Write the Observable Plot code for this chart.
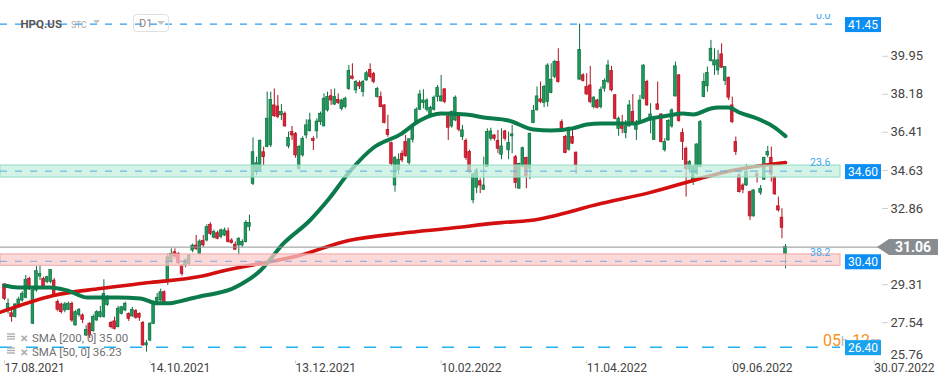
<!DOCTYPE html>
<html><head><meta charset="utf-8">
<script src="https://cdn.jsdelivr.net/npm/d3@7"></script>
<script src="https://cdn.jsdelivr.net/npm/@observablehq/plot@0.6"></script>
<style>
html,body{margin:0;padding:0;background:#fff;}
#chart{width:949px;height:385px;overflow:hidden;}
svg{display:block;}
</style></head><body><div id="chart"></div>
<script>
// ---- data (daily candles, HPQ.US, index 0 = 17.08.2021) ----
const openP = [29.32,28.11,27.98,27.80,28.34,28.57,28.70,29.58,27.49,29.04,
29.69,29.58,29.43,29.43,29.50,28.50,28.39,28.11,28.14,28.42,
27.41,27.90,27.88,26.94,27.49,27.14,27.64,27.80,27.80,28.37,
27.52,27.60,27.33,27.95,28.11,27.95,27.83,28.08,27.95,27.53,
26.48,26.71,27.49,28.50,28.57,28.96,29.50,30.36,30.82,30.75,
30.20,30.20,30.28,30.90,31.13,30.75,31.34,31.37,32.10,31.50,
31.71,31.53,31.60,31.79,31.37,31.17,31.14,31.14,31.30,32.00,
34.01,34.55,34.63,35.48,35.72,35.80,37.66,37.61,37.20,37.27,
35.75,36.42,36.34,34.71,35.33,36.26,36.46,36.10,36.45,36.88,
36.68,37.43,38.09,37.70,37.92,37.50,37.58,38.43,39.01,38.36,
38.70,38.28,38.82,39.32,39.13,38.05,38.05,37.66,36.52,35.90,
33.93,34.63,35.41,35.95,34.98,36.06,36.88,37.46,37.77,37.46,
37.20,37.46,38.05,37.85,38.41,37.15,36.68,36.96,37.15,36.19,
36.00,35.49,33.24,33.83,34.13,33.73,34.79,36.11,36.26,36.00,
35.36,36.45,35.57,36.22,35.25,33.78,34.79,35.21,34.71,36.84,
37.43,37.94,37.77,37.82,38.24,38.98,39.68,36.88,36.19,35.60,
36.19,35.46,38.86,39.06,38.52,38.59,37.58,37.89,37.58,38.44,
38.75,39.26,38.13,36.57,36.77,36.37,36.68,37.35,36.53,36.81,
37.97,38.75,37.09,36.06,37.71,37.24,35.57,36.03,36.68,38.08,
39.06,36.37,35.64,34.67,34.16,34.48,34.79,38.05,38.55,39.73,
39.52,39.29,40.04,38.80,38.95,37.66,35.95,34.40,33.93,33.93,
33.62,32.49,34.45,33.58,34.20,35.33,35.22,34.32,32.96,32.43,
30.75];
const highP = [29.35,28.65,28.19,28.42,28.73,28.98,29.74,29.66,29.12,30.16,
30.20,29.66,29.70,30.00,29.60,28.60,28.45,28.48,28.50,28.50,
28.10,28.20,27.95,27.40,27.55,27.90,28.10,28.30,29.54,28.80,
27.60,27.80,28.30,28.30,28.50,28.00,28.25,28.15,28.00,27.60,
26.71,27.55,28.55,28.90,29.10,29.02,30.75,30.98,30.98,30.80,
30.25,30.50,30.70,31.20,31.60,31.40,31.60,32.10,32.20,31.85,
31.80,31.90,31.95,31.95,31.45,31.30,31.50,31.40,32.30,32.55,
36.15,35.25,36.06,35.72,38.28,38.28,38.43,38.12,37.70,37.35,
36.42,36.68,36.40,35.80,36.20,36.99,37.30,36.20,37.04,37.35,
38.20,38.28,38.39,38.43,38.20,37.95,38.05,39.52,39.60,38.82,
38.80,38.82,39.25,39.60,39.20,38.50,38.28,37.70,37.20,35.95,
35.28,35.40,35.55,36.26,36.11,36.68,37.55,38.36,38.39,37.97,
37.62,38.10,38.59,39.06,38.44,37.20,37.40,38.10,37.30,36.73,
36.10,35.57,34.48,34.71,34.25,35.25,36.57,36.60,36.30,36.50,
36.57,36.50,36.42,36.73,35.33,34.97,35.72,35.25,36.37,37.66,
38.52,38.75,38.59,39.60,39.60,39.76,40.30,36.99,36.26,36.65,
36.57,35.49,41.45,39.14,39.14,39.48,38.08,37.95,38.52,38.90,
39.76,39.48,38.17,37.12,37.20,36.96,37.89,38.17,36.96,38.13,
39.55,38.83,37.74,36.99,38.75,37.27,36.11,36.99,37.50,39.68,
39.10,36.57,35.72,35.10,34.87,35.88,36.96,39.14,39.45,40.69,
40.30,40.22,40.53,39.45,38.98,38.05,36.19,34.51,34.01,34.91,
33.67,33.73,34.63,33.93,35.25,35.75,35.72,34.35,33.39,32.85,
31.18];
const lowP = [28.57,27.95,27.56,27.76,28.26,28.50,28.65,29.04,27.45,28.96,
29.50,29.20,29.35,29.35,28.75,28.05,27.95,28.00,28.10,27.55,
27.38,27.80,27.50,26.90,26.80,27.10,27.60,27.75,27.75,28.30,
27.25,27.20,27.30,27.90,28.05,27.60,27.80,27.70,27.60,26.45,
26.17,26.65,27.45,28.40,28.50,28.40,29.27,30.28,30.50,30.25,
29.70,30.10,30.20,30.80,30.90,30.70,31.06,31.30,31.60,31.45,
31.40,31.45,31.55,31.25,31.20,30.90,30.68,31.05,31.25,31.80,
33.93,34.40,34.60,34.86,35.69,35.70,37.10,37.04,36.96,36.65,
35.64,36.03,35.20,34.63,35.25,36.10,36.42,35.56,36.10,36.73,
36.68,37.35,37.66,37.66,37.70,37.40,37.50,38.36,38.85,38.20,
38.40,38.05,38.80,38.90,38.67,38.00,37.55,36.80,36.18,34.82,
33.62,34.40,35.00,35.25,34.87,35.91,36.85,37.43,37.50,37.35,
37.12,37.40,37.82,37.82,37.74,36.03,36.60,36.90,36.42,36.03,
35.10,34.48,33.08,33.55,33.55,33.70,34.76,36.00,36.00,35.41,
35.13,36.00,35.13,35.41,33.78,33.78,34.76,33.78,34.20,36.81,
37.40,37.74,37.55,37.58,38.20,38.90,38.70,36.42,35.41,35.53,
35.84,34.45,38.83,38.75,38.13,37.74,37.50,37.50,37.50,38.28,
38.67,38.28,36.99,36.22,36.34,36.11,36.65,36.81,36.03,36.77,
37.92,37.62,36.34,36.03,37.43,35.91,35.49,36.00,36.60,38.05,
36.88,35.10,33.39,34.48,33.93,34.40,34.76,38.02,38.28,39.68,
39.06,39.06,39.37,38.59,37.89,36.81,35.33,33.58,33.55,33.89,
32.30,32.46,34.04,33.47,34.17,35.22,34.09,33.47,32.69,31.45,
30.05];
const closeP = [28.65,28.42,27.80,28.39,28.62,28.88,29.54,29.12,29.04,29.94,
29.81,29.22,29.66,30.00,28.80,28.14,28.03,28.39,28.42,27.64,
28.03,28.14,27.67,27.20,26.94,27.80,28.03,28.03,28.88,28.73,
27.33,27.25,28.19,28.26,28.42,27.72,28.14,27.77,27.77,26.48,
26.58,27.49,28.50,28.70,28.96,28.45,30.59,30.75,30.62,30.31,
29.81,30.44,30.67,31.13,30.98,31.32,31.14,31.99,31.68,31.76,
31.45,31.84,31.84,31.30,31.25,30.94,31.45,31.30,32.18,32.18,
35.48,34.97,36.00,35.25,37.04,37.92,37.16,37.12,37.35,36.68,
36.15,36.26,35.33,35.72,36.10,36.73,36.96,36.00,36.91,37.27,
37.97,38.05,37.89,38.05,37.77,37.89,37.97,39.26,38.90,38.75,
38.54,38.75,39.16,38.98,38.75,38.43,37.58,36.84,36.29,34.94,
35.22,35.13,35.10,35.29,36.08,36.65,37.46,38.17,37.89,37.89,
37.55,38.02,38.48,38.08,37.82,36.62,37.35,38.02,36.53,36.50,
35.22,34.56,34.45,34.63,33.93,33.93,36.42,36.45,36.11,35.64,
35.75,36.11,35.91,36.31,34.04,34.94,35.67,34.35,36.34,37.40,
38.08,37.82,38.52,39.52,38.86,39.68,38.75,36.50,35.44,36.62,
35.88,34.87,40.25,38.80,38.17,37.82,38.02,37.55,38.39,38.80,
39.52,38.36,37.04,37.04,36.57,36.68,37.66,36.88,36.81,37.89,
39.52,37.66,37.24,36.96,37.46,35.95,35.95,36.93,37.43,39.48,
36.93,35.95,34.71,35.02,34.79,35.84,36.88,38.75,39.17,40.30,
39.76,39.76,39.42,39.45,38.02,36.88,35.49,33.62,33.73,34.56,
32.49,33.70,34.32,33.78,35.22,35.49,34.45,33.52,32.77,31.96,
31.06];

// moving averages (bar index, value)
const sma50Idx = [0,3.7,13,17.7,23.4,31.8,38.3,43,46,51.5,55,59.4,63.7,66.5,69.3,72.1,78.6,86,91,97.5,104,111.5,117,123,130,135,142,149,154,160,164,168,177,182,187,191,194,199,201,204,207,212,217,220];
const sma50Val = [29.27,29.18,29.18,29.04,28.71,28.71,28.67,28.44,28.44,28.62,28.76,28.90,29.09,29.32,29.60,29.97,31.23,32.30,33.23,34.63,35.70,36.31,36.96,37.28,37.24,37.10,36.96,36.54,36.49,36.59,36.77,36.82,36.82,37.05,37.19,37.28,37.24,37.52,37.56,37.56,37.33,37.05,36.63,36.23];
const sma200Idx = [-1.1,13.8,27,41,55,62,83,97,112,125,140,148,168,182,196,205,220];
const sma200Val = [28.03,28.81,29.13,29.41,29.69,29.97,30.67,31.37,31.71,31.93,32.20,32.30,33.09,33.61,34.26,34.63,35.00];

// axis ticks
const xTickIdx = [0,41,82,123,164,205,245];
const xTickLabels = ["17.08.2021","14.10.2021","13.12.2021","10.02.2022","11.04.2022","09.06.2022","30.07.2022"];
const yTicks = [27.54,29.31,31.09,32.86,34.63,36.41,38.18,39.95];
const yTickBottom = 25.76;

// levels and zones
const levelValues = [41.45, 34.60, 30.40, 26.40];
const zoneLo = [34.30, 30.19];
const zoneHi = [34.86, 30.72];
const fibValues = [41.45, 34.60, 30.40];
const fibLabels = ["0.0", "23.6", "38.2"];
const legendLines = ["SMA [200, 0] 35.00", "SMA [50, 0] 36.23"];

// ---- layout ----
const W = 949, H = 385;
const X0 = 4, BAR = 3.55;
const PLOT_RIGHT = 881, PLOT_BOTTOM = 360.4;
const xDomain = [-X0 / BAR, (PLOT_RIGHT - X0) / BAR];
const LEVEL_END = (840 - X0) / BAR;
const yDomain = [25.76, 42.548];

const UP_FILL = "#1f9a5d", UP_EDGE = "#0c6e3e";
const DN_FILL = "#dc2238", DN_EDGE = "#b0101f";

const candles = closeP.map((c, i) => ({i, open: openP[i], high: highP[i], low: lowP[i], close: c, up: c >= openP[i]}));
const sma50 = sma50Idx.map((i, k) => ({i, v: sma50Val[k]}));
const sma200 = sma200Idx.map((i, k) => ({i, v: sma200Val[k]}));
const zones = [
  {lo: zoneLo[0], hi: zoneHi[0], fill: "#c0eedb", edge: "#93dcc0"},
  {lo: zoneLo[1], hi: zoneHi[1], fill: "#f9caca", edge: "#f1a7a7"}
];
const levelStyles = [
  {color: "#2a9df4", w: 1.2, dash: "7,8"},
  {color: "#58ade6", w: 1, dash: "7,8"},
  {color: "#86a6d8", w: 1, dash: "7,8"},
  {color: "#1fb1f5", w: 1.5, dash: "12,14"}
];
const boxColors = ["#0b8ef4", "#0b8ef4", "#0b8ef4", "#17a2ee"];
const lastPrice = closeP[closeP.length - 1];
const labelMap = new Map(xTickIdx.map((d, k) => [d, xTickLabels[k]]));
const fibs = fibValues.map((v, k) => ({v, label: fibLabels[k]}));

const chart = Plot.plot({
  width: W, height: H,
  marginLeft: 0, marginRight: W - PLOT_RIGHT, marginTop: 0, marginBottom: H - PLOT_BOTTOM,
  style: {fontFamily: "Roboto, 'Open Sans', sans-serif", background: "#fff", overflow: "visible"},
  x: {domain: xDomain},
  y: {domain: yDomain},
  marks: [
    Plot.ruleX(candles, {x: "i", y1: "low", y2: "high", stroke: d => d.up ? UP_EDGE : DN_EDGE, strokeWidth: 1}),
    Plot.rect(candles, {x1: d => d.i - 0.37, x2: d => d.i + 0.37, y1: "open", y2: "close",
      fill: d => d.up ? UP_FILL : DN_FILL, stroke: d => d.up ? UP_EDGE : DN_EDGE, strokeWidth: 0.7}),
    Plot.line(sma200, {x: "i", y: "v", stroke: "#d3100f", strokeWidth: 3.6, curve: "monotone-x"}),
    Plot.line(sma50, {x: "i", y: "v", stroke: "#0b7b4c", strokeWidth: 4, curve: "monotone-x"}),
    ...zones.map(z => Plot.rect([z], {x1: xDomain[0], x2: LEVEL_END, y1: "lo", y2: "hi", fill: z.fill, fillOpacity: 0.72, stroke: z.edge, strokeWidth: 1})),
    ...levelValues.map((v, k) => Plot.ruleY([v], {x1: xDomain[0], x2: LEVEL_END, stroke: levelStyles[k].color, strokeWidth: levelStyles[k].w, strokeDasharray: levelStyles[k].dash})),
    Plot.ruleY([lastPrice], {stroke: "#8f9396", strokeWidth: 1}),
    Plot.text(fibs, {x: LEVEL_END, y: "v", text: "label", textAnchor: "end", lineAnchor: "bottom", dx: -10, dy: -5, fill: "#3ea6ee", fontSize: 10.5}),
    Plot.axisX({ticks: xTickIdx, tickFormat: d => labelMap.get(d), textAnchor: "start", tickSize: 3, tickPadding: 0, fontSize: 12, fill: "#444", stroke: "#c8c8c8", label: null}),
    Plot.axisY({anchor: "right", ticks: yTicks, tickFormat: d => d.toFixed(2), tickSize: 6, tickPadding: 3, fontSize: 13, fill: "#444", stroke: "#d0d0d0", label: null}),
    Plot.axisY({anchor: "right", ticks: [yTickBottom], tickFormat: d => d.toFixed(2), tickSize: 0, tickPadding: 9, dy: -6, fontSize: 13, fill: "#444", label: null})
  ]
});
document.getElementById("chart").appendChild(chart);

// ---- annotations positioned through Plot's scales ----
const svg = d3.select(chart);
const sy = chart.scale("y");
const FONT = "Roboto, 'Open Sans', sans-serif";
const txt = (x, y, size, fill, s, anchor = "start") => svg.append("text").attr("x", x).attr("y", y)
  .attr("text-anchor", anchor).attr("font-family", FONT).attr("font-size", size).attr("fill", fill).text(s);

// clip top of "0.0" label like the pane edge
svg.append("rect").attr("x", 795).attr("y", 0).attr("width", 46).attr("height", 14).attr("fill", "#fff");

// countdown text (under the 26.40 box)
const cd = svg.append("text").attr("x", 823).attr("y", 346).attr("text-anchor", "start").attr("font-family", FONT).attr("font-size", 16);
cd.append("tspan").attr("fill", "#f7931e").text("05");
cd.append("tspan").attr("fill", "#b5b5b5").attr("font-size", 13).text("h");
cd.append("tspan").attr("fill", "#f7931e").text(" 12");
cd.append("tspan").attr("fill", "#b5b5b5").attr("font-size", 13).text("m");

// level boxes
levelValues.forEach((v, k) => {
  const cy = sy.apply(v) + 1;
  svg.append("rect").attr("x", 845).attr("y", cy - 7.5).attr("width", 36).attr("height", 15).attr("fill", boxColors[k]);
  txt(863, cy + 4.3, 12, "#fff", v.toFixed(2), "middle");
});

// current price arrow label
{
  const cy = sy.apply(lastPrice) + 0.5;
  svg.append("polygon").attr("points", `877,${cy} 889,${cy - 8} 938,${cy - 8} 938,${cy + 8} 889,${cy + 8}`).attr("fill", "#878d91");
  txt(913, cy + 5, 14, "#fff", lastPrice.toFixed(2), "middle").attr("font-weight", "bold");
}

// header
txt(20.5, 27.5, 11.5, "#555", "HPQ.US").attr("font-weight", "bold");
txt(71, 27.5, 8.5, "#aaa", "STC");
svg.append("polygon").attr("points", "93,20 100,20 96.5,24").attr("fill", "#c4c4c4");
svg.append("rect").attr("x", 133.5).attr("y", 14.5).attr("width", 35).attr("height", 17).attr("rx", 3).attr("fill", "none").attr("stroke", "#e0e0e0");
txt(139, 27, 11, "#888", "D1");
svg.append("polygon").attr("points", "157,21 165,21 161,25").attr("fill", "#c4c4c4");

// legend
legendLines.forEach((t, k) => {
  const by = 342 + k * 14;
  [0, 2.5, 5].forEach(o => svg.append("line").attr("x1", 7).attr("x2", 15).attr("y1", by - 8 + o).attr("y2", by - 8 + o).attr("stroke", "#a9a9a9").attr("stroke-width", 1.3));
  txt(19.5, by - 0.5, 10, "#a9a9a9", "✕").attr("font-weight", "bold");
  txt(32, by, 11.5, "#707070", t);
});
</script>
</body></html>
